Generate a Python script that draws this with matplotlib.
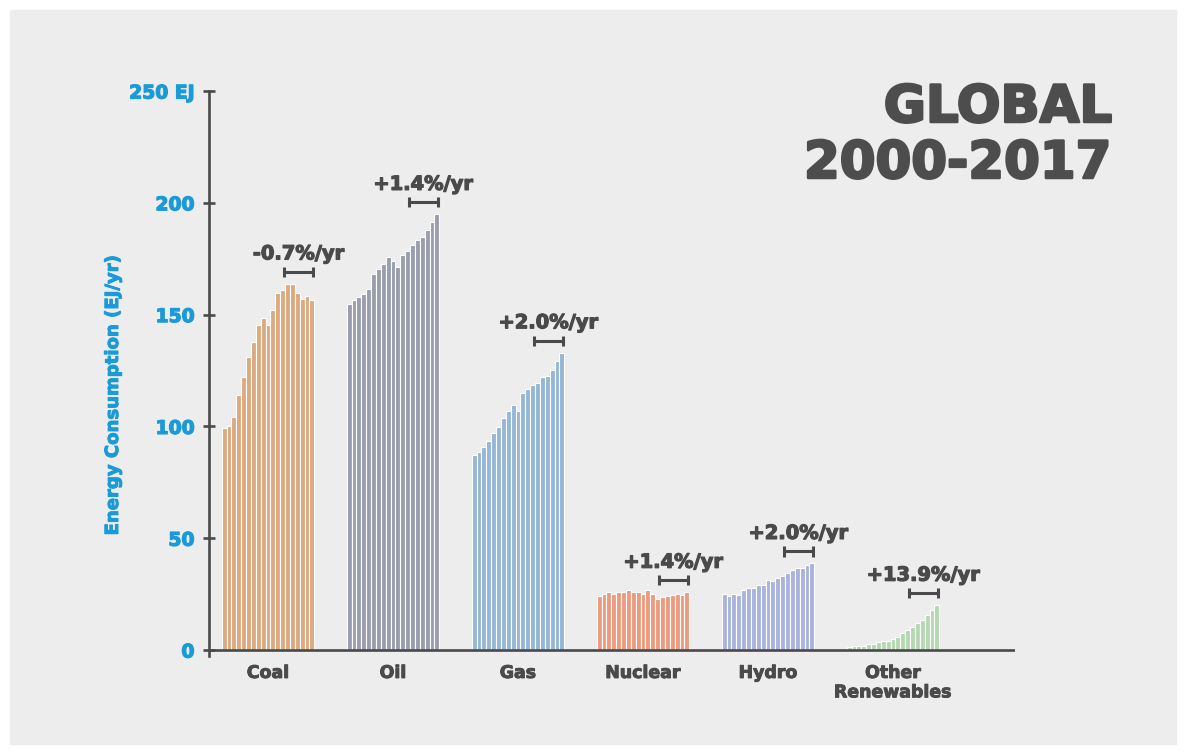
import numpy as np
import matplotlib.pyplot as plt
import matplotlib.patheffects as pe
from matplotlib.patches import Rectangle

categories = ["Coal", "Oil", "Gas", "Nuclear", "Hydro", "Other\nRenewables"]
# EJ per year, 19 bars per fuel
coal = [99.1, 100.3, 104.1, 113.9, 122.0, 130.9, 137.6, 145.2, 148.6, 145.2,
        152.1, 159.8, 160.9, 163.8, 163.8, 159.8, 157.1, 158.5, 156.4]
oil = [154.7, 156.5, 158.0, 159.3, 161.3, 168.3, 170.5, 172.5, 175.8, 174.1,
       171.4, 176.7, 178.4, 181.1, 183.4, 184.8, 187.7, 191.4, 194.9]
gas = [87.2, 88.4, 90.9, 93.6, 97.2, 99.9, 103.6, 107.0, 109.7, 107.0,
       115.1, 116.6, 118.5, 119.5, 121.9, 122.7, 125.2, 129.2, 133.0]
nuclear = [24.2, 25.0, 25.9, 25.0, 25.9, 25.9, 26.8, 25.9, 25.9, 25.0,
           26.8, 25.0, 22.9, 23.6, 24.2, 24.7, 25.0, 24.5, 25.9]
hydro = [25.0, 24.2, 25.0, 24.5, 26.8, 27.7, 27.7, 29.1, 29.1, 31.3,
         30.7, 32.2, 33.2, 34.6, 35.8, 36.8, 36.8, 38.1, 38.8]
other = [1.5, 1.9, 1.9, 1.9, 2.7, 2.7, 3.6, 4.2, 4.2, 5.1,
         5.9, 7.6, 8.8, 10.3, 12.1, 13.6, 15.7, 18.0, 20.1]
growth = ["-0.7%/yr", "+1.4%/yr", "+2.0%/yr", "+1.4%/yr", "+2.0%/yr", "+13.9%/yr"]
yticks = [0, 50, 100, 150, 200, 250]
ytick_labels = ["0", "50", "100", "150", "200", "250 EJ"]

series = [coal, oil, gas, nuclear, hydro, other]
colors = ["#dcaa80", "#9a9dae", "#95b6d4", "#ec9b7e", "#a9b3dd", "#b5d8b3"]
dark = "#4a4a4a"
blue = "#1a9ad6"


def heavy(color, w=0.9):
    # thicken the bold glyphs a little
    return [pe.withStroke(linewidth=w, foreground=color)]


W, H = 1186, 754
fig = plt.figure(figsize=(W / 100, H / 100), dpi=100)
fig.patch.set_facecolor("white")
fig.patches.append(Rectangle((10 / W, 10 / H), 1166 / W, 734 / H,
                             transform=fig.transFigure, color="#ededed", zorder=-5))

ax = fig.add_axes([209 / W, 1 - 655.6 / H, 806 / W, (655.6 - 91) / H])
ax.set_facecolor("none")
ax.set_xlim(-0.472, -0.472 + 806 / 125)
ax.set_ylim(-2.5, 250)

group_w = 0.74
n = len(coal)
bw = group_w / n
for i, (vals, c) in enumerate(zip(series, colors)):
    x = i - group_w / 2 + bw / 2 + np.arange(n) * bw
    ax.bar(x, vals, width=bw, color=c, edgecolor="white", linewidth=0.8, zorder=2)
    # growth bracket over the last years
    x0 = x[12] + bw * 0.2
    x1 = x[-1] + bw * 0.3
    yb = max(vals[12:]) + 5.3
    ax.plot([x0, x1], [yb, yb], color=dark, lw=2.2, solid_capstyle="butt", zorder=3)
    for xx in (x0, x1):
        ax.plot([xx, xx], [yb - 2.3, yb + 2.3], color=dark, lw=2.2,
                solid_capstyle="butt", zorder=3)
    ax.annotate(growth[i], ((x0 + x1) / 2, yb), xytext=(0, 9),
                textcoords="offset points", ha="center", va="baseline",
                fontsize=14, fontweight="bold", color=dark,
                path_effects=heavy(dark))

for s in ["top", "right"]:
    ax.spines[s].set_visible(False)
ax.spines["left"].set_color(dark)
ax.spines["left"].set_linewidth(1.9)
ax.spines["bottom"].set_visible(False)
ax.axhline(0, color=dark, lw=1.9, zorder=4)

ax.set_yticks(yticks, ytick_labels)
ax.tick_params(axis="y", direction="inout", length=9, width=1.9, color=dark,
               labelcolor=blue, labelsize=13.5, pad=6)
for lab in ax.get_yticklabels():
    lab.set_fontweight("bold")
    lab.set_path_effects(heavy(blue))

ax.set_xticks(range(len(categories)), categories)
ax.tick_params(axis="x", length=0, pad=6, labelsize=12.5, labelcolor=dark)
for lab in ax.get_xticklabels():
    lab.set_fontweight("bold")
    lab.set_linespacing(1.1)
    lab.set_path_effects(heavy(dark, 0.7))

fig.text(113 / W, 1 - 396 / H, "Energy Consumption (EJ/yr)", rotation=90,
         ha="center", va="center", fontsize=13, fontweight="bold", color=blue,
         path_effects=heavy(blue, 0.7))

fig.text(1112 / W, 1 - 122 / H, "GLOBAL", ha="right", va="baseline",
         fontsize=37, fontweight="bold", color="#4d4d4d",
         path_effects=heavy("#4d4d4d", 1.8))
fig.text(1112 / W, 1 - 178 / H, "2000-2017", ha="right", va="baseline",
         fontsize=37, fontweight="bold", color="#4d4d4d",
         path_effects=heavy("#4d4d4d", 1.8))

fig.savefig("out.png", dpi=100)
